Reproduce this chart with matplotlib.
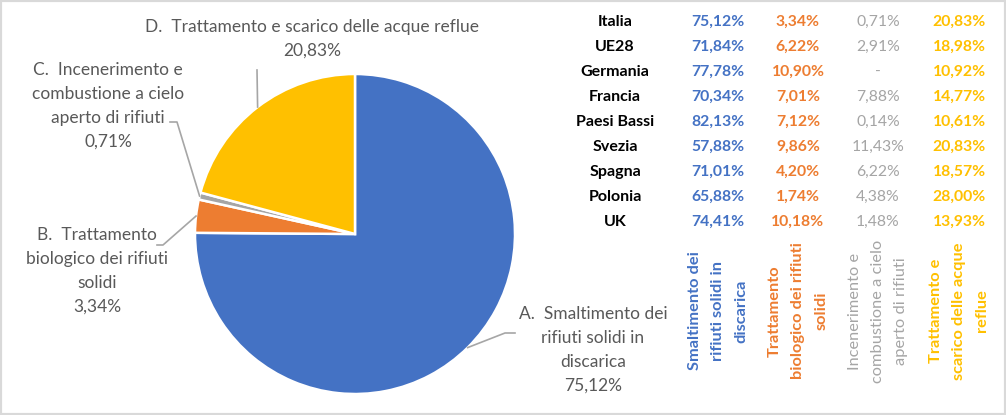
import matplotlib.pyplot as plt
import numpy as np
from matplotlib.patches import Rectangle

plt.rcParams["font.family"] = ["Lato", "DejaVu Sans"]

CATEGORIE = [
    "A.  Smaltimento dei\nrifiuti solidi in\ndiscarica",
    "B.  Trattamento\nbiologico dei rifiuti\nsolidi",
    "C.  Incenerimento e\ncombustione a cielo\naperto di rifiuti",
    "D.  Trattamento e scarico delle acque reflue",
]
INTESTAZIONI = [
    "Smaltimento dei\nrifiuti solidi in\ndiscarica",
    "Trattamento\nbiologico dei rifiuti\nsolidi",
    "Incenerimento e\ncombustione a cielo\naperto di rifiuti",
    "Trattamento e\nscarico delle acque\nreflue",
]
PAESI = ["Italia", "UE28", "Germania", "Francia", "Paesi Bassi",
         "Svezia", "Spagna", "Polonia", "UK"]
SMALTIMENTO = [75.12, 71.84, 77.78, 70.34, 82.13, 57.88, 71.01, 65.88, 74.41]
BIOLOGICO = [3.34, 6.22, 10.90, 7.01, 7.12, 9.86, 4.20, 1.74, 10.18]
INCENERIMENTO = [0.71, 2.91, None, 7.88, 0.14, 11.43, 6.22, 4.38, 1.48]
ACQUE = [20.83, 18.98, 10.92, 14.77, 10.61, 20.83, 18.57, 28.00, 13.93]

COLORI = ["#4472C4", "#ED7D31", "#A5A5A5", "#FFC000"]
GRIGIO_TESTO = "#595959"
W, H = 1006, 415


def fx(x):
    return x / W


def fy(y):
    return 1 - y / H


def perc(v):
    if v is None:
        return "-"
    return f"{v:.2f}%".replace(".", ",")


fig = plt.figure(figsize=(W / 100, H / 100), dpi=100)
fig.patches.append(Rectangle((0, 0), 1, 1, transform=fig.transFigure,
                             fill=False, edgecolor="#d9d9d9", linewidth=3))

# torta (Italia)
cx, cy, r = 355, 234, 160
ax = fig.add_axes([fx(cx - r), fy(cy + r), 2 * r / W, 2 * r / H])
italia = [SMALTIMENTO[0], BIOLOGICO[0], INCENERIMENTO[0], ACQUE[0]]
wedges, _ = ax.pie(italia, colors=COLORI, startangle=90, counterclock=False,
                   wedgeprops=dict(edgecolor="white", linewidth=1.8))
ax.set_xlim(-1, 1)
ax.set_ylim(-1, 1)
ax.set_aspect("equal")
ax.axis("off")

# posizioni etichette (pixel): centro testo, gomito, fine linea
etichette = [
    ((593, 350), [(505, 333), (515, 333)]),
    ((97, 271), [(163, 245), (157, 245)]),
    ((108, 106), [(177, 122), (170, 122)]),
    ((312, 39), [(257, 70)]),
]
for w, val, cat, (pos, pts) in zip(wedges, italia, CATEGORIE, etichette):
    ang = np.deg2rad((w.theta1 + w.theta2) / 2)
    px = cx + r * np.cos(ang)
    py = cy - r * np.sin(ang)
    xs = [fx(px)] + [fx(p[0]) for p in pts]
    ys = [fy(py)] + [fy(p[1]) for p in pts]
    fig.add_artist(plt.Line2D(xs, ys, transform=fig.transFigure,
                              color="#A6A6A6", linewidth=1.2))
    fig.text(fx(pos[0]), fy(pos[1]), f"{cat}\n{perc(val)}", ha="center",
             va="center", fontsize=12.5, color=GRIGIO_TESTO, linespacing=1.6,
             multialignment="center")

# tabella
col_x = [718, 798, 878, 959]
serie = [SMALTIMENTO, BIOLOGICO, INCENERIMENTO, ACQUE]
pesi = ["bold", "bold", "normal", "bold"]
for i, paese in enumerate(PAESI):
    y = 22 + i * 25
    fig.text(fx(615), fy(y), paese, ha="center", va="center",
             fontsize=11.5, fontweight="bold", color="black")
    for x, s, c, p in zip(col_x, serie, COLORI, pesi):
        fig.text(fx(x), fy(y), perc(s[i]), ha="center", va="center",
                 fontsize=11.3, fontweight=p, color=c)

for x, testo, c, p in zip(col_x, INTESTAZIONI, COLORI, pesi):
    fig.text(fx(x), fy(311), testo, ha="center", va="center", rotation=90,
             fontsize=11.8, fontweight=p, color=c, multialignment="center",
             linespacing=1.85)

fig.savefig("out.png", dpi=100)
